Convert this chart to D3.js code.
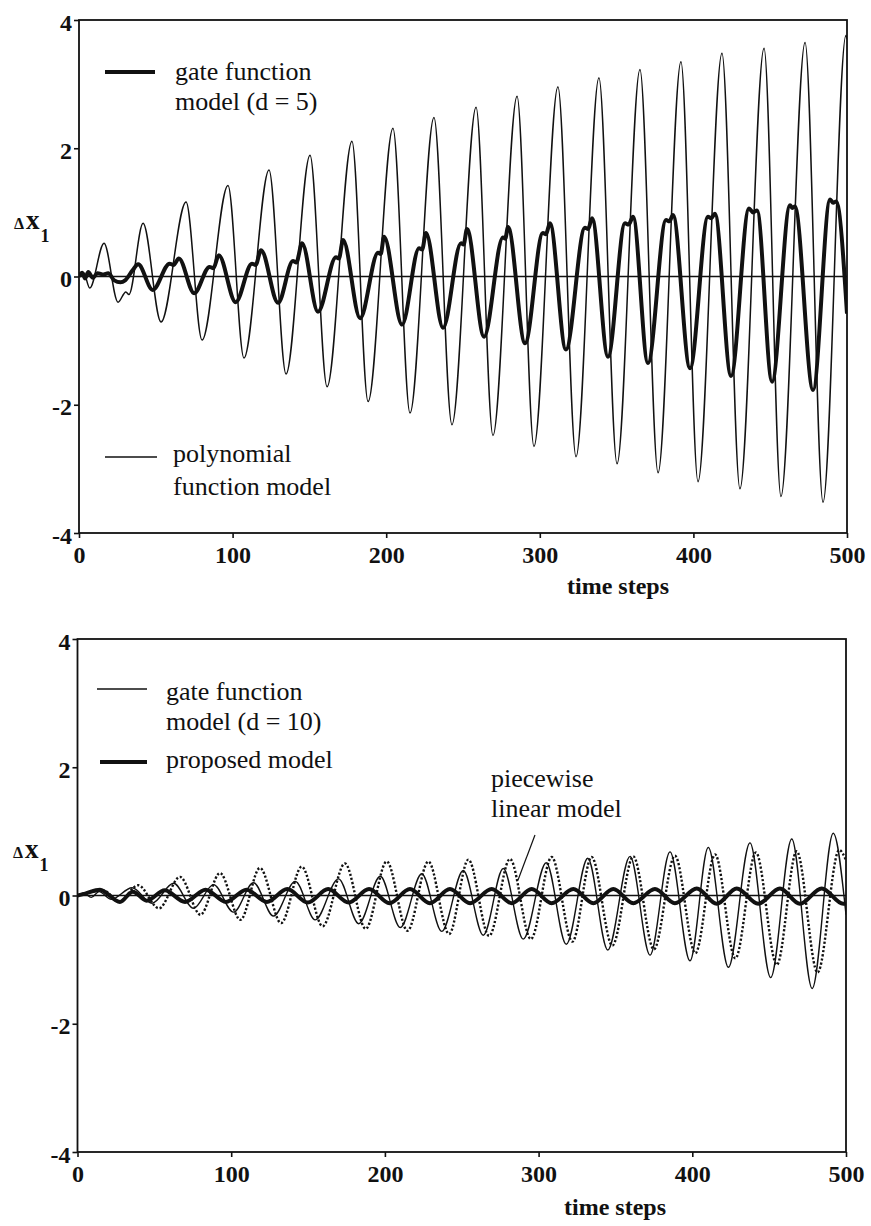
<!DOCTYPE html>
<html><head><meta charset="utf-8">
<script src="https://cdn.jsdelivr.net/npm/d3@7"></script>
<style>
html,body{margin:0;padding:0;background:#fff;}
svg{display:block;}
svg text{font-family:"Liberation Serif","Times New Roman",Times,"Nimbus Roman","DejaVu Serif",serif !important;}
</style></head><body>
<svg id="chart" width="871" height="1226"></svg>
<script>
// Δx1 response over 500 time steps. Each trace is listed by its turning
// points [time step, Δx1]; d3.curveMonotoneX draws the smooth trace through them.
const xTicks = [0, 100, 200, 300, 400, 500];
const yTicks = [-4, -2, 0, 2, 4];

// upper panel
const polynomialModel = [
  [0,0],[3,0.06],[7,-0.18],[16.3,0.52],[25.4,-0.4],[30.5,-0.24],[32.5,-0.28],[41.7,0.83],
  [53.4,-0.71],[69.7,1.16],[80.1,-0.99],[97,1.42],[107.4,-1.27],[123.7,1.66],[134.8,-1.52],
  [150.4,1.89],[161.5,-1.72],[177.7,2.11],[188.2,-1.95],[204.4,2.31],[215.5,-2.13],
  [231.1,2.48],[242.8,-2.31],[258.5,2.64],[269.5,-2.48],[285.2,2.81],[296.2,-2.65],
  [311.8,2.96],[323.6,-2.81],[338.5,3.10],[350.3,-2.92],[365.2,3.23],[377,-3.06],
  [391.9,3.35],[403,-3.2],[418.6,3.48],[430.3,-3.31],[446,3.56],[457,-3.43],
  [472.7,3.65],[484.4,-3.52],[499.3,3.76],[500,3.7]
];
const gateModelD5 = [
  [0,0],[2,0.06],[4,-0.03],[6,0.07],[9,-0.02],[12,0.05],[16,0.03],[19,0.05],[23,-0.06],
  [27,-0.09],[30,-0.06],[35,0.1],[38.5,0.19],[48,-0.21],
  [59,0.2],[61.5,0.18],[65,0.28],[75,-0.26],
  [85,0.15],[87.5,0.13],[91,0.33],[102,-0.4],
  [112.6,0.2],[115,0.18],[118.5,0.41],[129.6,-0.41],
  [139.3,0.24],[141.5,0.22],[145.2,0.52],[155.6,-0.55],
  [167.3,0.3],[169.2,0.28],[171.9,0.57],[183,-0.65],
  [194.7,0.37],[196.4,0.35],[198.6,0.62],[210.3,-0.75],
  [221.4,0.44],[223.4,0.42],[225.9,0.68],[237,-0.8],
  [248.7,0.52],[250.4,0.5],[252.6,0.74],[263.7,-0.94],
  [276,0.61],[277.5,0.59],[279.3,0.77],[290.4,-1.04],
  [302,0.68],[304,0.66],[306.6,0.83],[317,-1.14],
  [329.4,0.76],[331.5,0.74],[334,0.91],[344.4,-1.25],
  [355.5,0.83],[357.8,0.81],[360.7,0.93],[370.4,-1.35],
  [382.2,0.88],[384.4,0.86],[386.7,0.96],[397.8,-1.43],
  [409.5,0.93],[411.7,0.91],[414,0.98],[424.5,-1.55],
  [436.2,1.06],[438.8,1.0],[441.4,1.03],[451.2,-1.64],
  [462.9,1.11],[464.5,1.07],[466.1,1.09],[477.9,-1.77],
  [489,1.2],[491,1.15],[493,1.17],[500,-0.58]
];

// lower panel
const gateModelD10 = [
  [0,0],[4,0.04],[9,-0.03],[14,0.06],[22,-0.06],[35.5,0.12],[48.5,-0.12],[62.5,0.19],
  [75.5,-0.2],[88.5,0.17],[101.5,-0.26],[114.5,0.2],[127.5,-0.32],[141.7,0.22],[154.7,-0.38],
  [169.8,0.26],[183,-0.44],[197,0.3],[210,-0.5],[224,0.34],[237,-0.56],[251,0.39],[264,-0.62],
  [277,0.42],[290,-0.68],[305,0.51],[318,-0.76],[332,0.58],[345,-0.85],[359.5,0.61],
  [372.5,-0.93],[385.5,0.68],[398.5,-1.02],[410.4,0.75],[423.5,-1.12],[437.5,0.82],
  [451,-1.28],[464.7,0.88],[478,-1.45],[491.7,0.97],[500,-0.3]
];
const proposedModel = [
  [0,0],[5,0.03],[14.6,0.09],[27.6,-0.1],[36,0.06],[45,-0.08],[56.7,0.08],[70,-0.1],
  [83.3,0.09],[96.6,-0.1],[109.9,0.09],[123.2,-0.1],[136.5,0.1],[149.8,-0.11],[163.1,0.1],
  [176.4,-0.11],[189.7,0.1],[203,-0.12],[216.3,0.1],[229.3,-0.12],[242.3,0.1],[255.4,-0.12],
  [269.5,0.1],[282.5,-0.12],[295.5,0.1],[308.5,-0.12],[322.6,0.1],[335.6,-0.12],[348.6,0.1],
  [361.6,-0.12],[375.7,0.1],[388.7,-0.12],[402.9,0.11],[415.9,-0.13],[428.9,0.11],
  [442.9,-0.13],[457,0.11],[470,-0.13],[484.2,0.11],[498.2,-0.13],[500,-0.12]
];
const piecewiseLinearModel = [
  [0,0],[8,0.05],[17,0.08],[27,-0.1],[39.4,0.16],[53,-0.2],[66.7,0.29],[80,-0.3],
  [92.7,0.35],[106,-0.38],[118.7,0.43],[132.5,-0.43],[145.9,0.45],[159.5,-0.48],[174,0.5],
  [187.5,-0.52],[201.2,0.53],[214.7,-0.55],[228.3,0.53],[241.8,-0.6],[254.3,0.56],
  [267.8,-0.63],[281.4,0.57],[295,-0.68],[308.5,0.6],[322,-0.72],[334.5,0.6],[348,-0.78],
  [361.6,0.61],[375,-0.84],[388.7,0.62],[402,-0.9],[414.8,0.64],[428,-0.98],[441.4,0.67],
  [455,-1.08],[467.9,0.69],[481.5,-1.2],[495.6,0.71],[500,0.55]
];

const INK = "#111";
const FONT = '"Liberation Serif","Times New Roman",Times,"Nimbus Roman","DejaVu Serif",serif';
const svg = d3.select("#chart");
svg.append("rect").attr("width", 871).attr("height", 1226).attr("fill", "#fff");

function drawPanel(id, xRange, yRange, series) {
  const x = d3.scaleLinear().domain([0, 500]).range(xRange);
  const y = d3.scaleLinear().domain([-4, 4]).range(yRange);
  const g = svg.append("g");

  g.append("clipPath").attr("id", id)
    .append("rect")
    .attr("x", xRange[0]).attr("y", yRange[1])
    .attr("width", xRange[1] - xRange[0]).attr("height", yRange[0] - yRange[1]);

  // zero reference line
  g.append("line")
    .attr("x1", x(0)).attr("x2", x(500)).attr("y1", y(0)).attr("y2", y(0))
    .attr("stroke", INK).attr("stroke-width", 1.3);

  const line = d3.line().x(d => x(d[0])).y(d => y(d[1])).curve(d3.curveMonotoneX);
  const traces = g.append("g").attr("clip-path", `url(#${id})`);
  series.forEach(s => {
    traces.append("path")
      .attr("d", line(s.data))
      .attr("fill", "none")
      .attr("stroke", INK)
      .attr("stroke-width", s.width)
      .attr("stroke-linejoin", "round")
      .attr("stroke-dasharray", s.dash || null);
  });

  // frame
  g.append("rect")
    .attr("x", xRange[0]).attr("y", yRange[1])
    .attr("width", xRange[1] - xRange[0]).attr("height", yRange[0] - yRange[1])
    .attr("fill", "none").attr("stroke", INK).attr("stroke-width", 1.8);

  const styleAxis = s => {
    s.attr("font-family", null);
    s.select(".domain").remove();
    s.selectAll(".tick line").attr("stroke", INK).attr("stroke-width", 1.6);
    s.selectAll(".tick text")
      .attr("fill", INK)
      .style("font-family", FONT)
      .style("font-weight", "bold")
      .style("font-size", "24px");
  };

  g.append("g")
    .attr("transform", `translate(${xRange[0]},0)`)
    .call(d3.axisLeft(y).tickValues(yTicks).tickSize(5).tickPadding(2).tickFormat(d => String(d)))
    .call(styleAxis)
    .call(s => s.selectAll(".tick text").attr("dy", "0.42em"));

  g.append("g")
    .attr("transform", `translate(0,${yRange[0]})`)
    .call(d3.axisBottom(x).tickValues(xTicks).tickSize(5).tickPadding(8).tickFormat(d => String(d)))
    .call(styleAxis);

  return { g, x, y };
}

const upperPanel = drawPanel("clip-upper", [79, 847], [533, 20], [
  { data: polynomialModel, width: 1.5 },
  { data: gateModelD5, width: 4 }
]);
const lowerPanel = drawPanel("clip-lower", [77.5, 846], [1152, 639], [
  { data: gateModelD10, width: 1.4 },
  { data: piecewiseLinearModel, width: 2.4, dash: "2.2 2" },
  { data: proposedModel, width: 4 }
]);

// text helpers
function label(x, y, str, size, weight) {
  return svg.append("text").attr("x", x).attr("y", y)
    .style("font-family", FONT)
    .style("font-size", size + "px").style("font-weight", weight || "normal")
    .attr("fill", INK).text(str);
}
function key(x1, x2, y, width) {
  svg.append("line").attr("x1", x1).attr("x2", x2).attr("y1", y).attr("y2", y)
    .attr("stroke", INK).attr("stroke-width", width);
}
function deltaLabel(x, y) {
  const t = svg.append("text").attr("x", x).attr("y", y).attr("fill", INK)
    .style("font-family", FONT).style("font-weight", "bold");
  t.append("tspan").style("font-size", "16px").text("Δ");
  t.append("tspan").style("font-size", "27px").attr("dx", 2).text("x");
  t.append("tspan").style("font-size", "18px").attr("dy", 13).attr("dx", 1).text("1");
}

// upper panel annotations
key(105, 155, 72, 4);
label(175, 80, "gate function", 26);
label(175, 110, "model (d = 5)", 26);
key(105, 157, 457, 1.5);
label(173, 462, "polynomial", 26);
label(173, 495, "function model", 26);
deltaLabel(14, 229);
label(567, 594, "time steps", 24, "bold");

// lower panel annotations
key(97, 147, 689, 1.4);
label(166, 700, "gate function", 26);
label(166, 730, "model (d = 10)", 26);
key(100, 147, 762, 4);
label(166, 768, "proposed model", 26);
label(491, 787, "piecewise", 26);
label(491, 817, "linear model", 26);
svg.append("line").attr("x1", 535).attr("y1", 835).attr("x2", 518).attr("y2", 880)
  .attr("stroke", INK).attr("stroke-width", 1.2);
deltaLabel(13, 858);
label(564, 1215, "time steps", 24, "bold");
</script>
</body></html>
